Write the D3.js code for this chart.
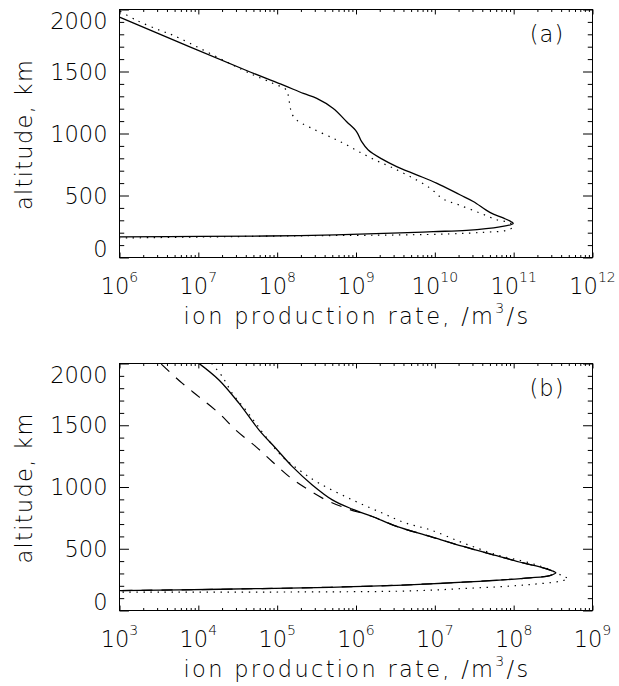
<!DOCTYPE html>
<html>
<head>
<meta charset="utf-8">
<script src="https://cdnjs.cloudflare.com/ajax/libs/d3/7.8.5/d3.min.js"></script>
<style>
  body { margin: 0; background: #fff; }
  svg { display: block; }
  text { font-family: "DejaVu Sans", sans-serif; font-weight: 200; fill: #000; }
</style>
</head>
<body>
<div id="chart"></div>
<script>
// ion production rate (/m^3/s) vs altitude (km)

// panel (a)
const aSolidRate = [1.0e6, 4.54e7, 1.20e8, 2.15e8, 3.18e8, 5.15e8, 7.62e8, 1.02e9, 1.18e9, 1.43e9, 2.12e9, 3.28e9, 5.87e9, 1.05e10, 2.08e10, 3.07e10, 4.99e10, 7.36e10, 9.40e10, 9.86e10, 6.68e10, 2.53e10, 9.55e9, 3.61e9, 1.95e8, 1.05e7, 1.0e6];
const aSolidAlt  = [1938, 1496, 1390, 1323, 1283, 1202, 1095, 1014, 934, 867, 795, 733, 667, 600, 506, 452, 364, 319, 287, 273, 247, 219, 209, 198, 177, 170, 166];
const aDotRate = [1.02e6, 1.66e6, 3.28e6, 4.83e6, 4.54e7, 8.95e7, 1.32e8, 1.39e8, 1.46e8, 1.53e8, 1.77e8, 2.75e8, 5.15e8, 7.62e8, 1.12e9, 1.74e9, 2.70e9, 4.84e9, 8.67e9, 1.28e10, 1.98e10, 3.73e10, 6.07e10, 8.95e10, 9.86e10, 8.13e10, 4.10e10, 1.55e10, 3.61e9, 1.95e8, 1.05e7, 1.0e6];
const aDotAlt  = [1986, 1912, 1831, 1791, 1484, 1403, 1349, 1296, 1215, 1162, 1108, 1042, 961, 908, 849, 787, 733, 653, 560, 471, 426, 359, 305, 279, 247, 219, 203, 190, 182, 175, 165, 157];

// panel (b)
const bSolidRate = [1.0e4, 1.84e4, 3.29e4, 5.90e4, 9.59e4, 1.56e5, 2.79e5, 5.01e5, 8.97e5, 1.61e6, 3.28e6, 8.67e6, 2.29e7, 6.07e7, 1.32e8, 2.37e8, 3.17e8, 3.43e8, 2.88e8, 1.60e8, 6.07e7, 2.29e7, 8.67e6, 3.28e6, 1.24e6, 4.68e5, 1.89e4, 1.0e3];
const bSolidAlt  = [2005, 1865, 1677, 1461, 1314, 1165, 1017, 896, 821, 761, 681, 600, 519, 444, 385, 345, 318, 305, 283, 264, 245, 229, 216, 204, 196, 188, 172, 161];
const bDotRate = [1.48e4, 2.02e4, 2.70e4, 4.00e4, 5.36e4, 7.18e4, 1.16e5, 1.90e5, 3.40e5, 8.97e5, 2.15e6, 4.27e6, 8.67e6, 2.29e7, 6.07e7, 1.60e8, 2.88e8, 4.24e8, 4.91e8, 3.85e8, 1.60e8, 6.07e7, 2.29e7, 8.67e6, 3.28e6, 4.68e5, 1.0e3];
const bDotAlt  = [2000, 1892, 1758, 1623, 1516, 1407, 1246, 1138, 1031, 896, 789, 708, 654, 547, 452, 385, 331, 277, 258, 237, 210, 191, 178, 164, 156, 151, 148];
const bDashRate = [3.39e3, 6.28e3, 1.02e4, 1.84e4, 2.99e4, 5.36e4, 8.69e4, 1.42e5, 2.30e5, 4.13e5, 7.40e5, 1.61e6, 3.28e6, 8.67e6, 2.29e7, 6.07e7, 1.32e8, 2.37e8, 3.17e8, 3.43e8, 2.88e8, 1.60e8, 6.07e7, 2.29e7, 8.67e6, 3.28e6, 1.24e6, 4.68e5, 1.89e4, 1.0e3];
const bDashAlt  = [1995, 1839, 1730, 1596, 1461, 1327, 1205, 1084, 991, 896, 829, 761, 681, 600, 519, 444, 385, 345, 318, 305, 283, 264, 245, 229, 216, 204, 196, 188, 172, 161];

// axes
const altTicks = [0, 500, 1000, 1500, 2000];
const aDecades = [6, 7, 8, 9, 10, 11, 12];
const bDecades = [3, 4, 5, 6, 7, 8, 9];

const W = 619, H = 686;
const svg = d3.select('#chart').append('svg').attr('width', W).attr('height', H);
svg.append('rect').attr('width', W).attr('height', H).attr('fill', '#fff');

const zip = (r, a) => r.map((v, i) => ({ rate: v, alt: a[i] }));

function panel(cfg) {
    const x = d3.scaleLog().domain([10 ** cfg.decades[0], 10 ** cfg.decades[cfg.decades.length - 1]]).range([119.5, 592.5]);
    const y = d3.scaleLinear().domain([0, 2000]).range([cfg.bottom, cfg.top]);
    const g = svg.append('g');
    const plotW = x.range()[1] - x.range()[0];
    const plotH = cfg.bottom - cfg.top;

    // IDL style ticks: inward, length 2% of the plot
    const majX = cfg.decades.map(d => 10 ** d);
    const minX = [];
    cfg.decades.slice(0, -1).forEach(d => { for (let k = 2; k <= 9; k++) minX.push(k * 10 ** d); });
    const minY = d3.range(0, 2001, 100).filter(v => v % 500 != 0);
    const xl = 0.02 * plotH, yl = 0.02 * plotW;

    const axes = [
        [d3.axisBottom(x).tickValues(majX).tickSize(-xl), `translate(0,${cfg.bottom})`],
        [d3.axisBottom(x).tickValues(minX).tickSize(-xl / 2), `translate(0,${cfg.bottom})`],
        [d3.axisTop(x).tickValues(majX).tickSize(-xl), `translate(0,${cfg.top})`],
        [d3.axisTop(x).tickValues(minX).tickSize(-xl / 2), `translate(0,${cfg.top})`],
        [d3.axisLeft(y).tickValues(altTicks).tickSize(-yl), `translate(${x.range()[0]},0)`],
        [d3.axisLeft(y).tickValues(minY).tickSize(-yl / 2), `translate(${x.range()[0]},0)`],
        [d3.axisRight(y).tickValues(altTicks).tickSize(-yl), `translate(${x.range()[1]},0)`],
        [d3.axisRight(y).tickValues(minY).tickSize(-yl / 2), `translate(${x.range()[1]},0)`]
    ];
    axes.forEach(([ax, tr]) => {
        const a = g.append('g').attr('transform', tr).call(ax.tickFormat('').tickSizeOuter(0));
        a.select('.domain').remove();
        a.selectAll('line').attr('stroke', '#000').attr('stroke-width', 1);
    });
    g.append('rect').attr('x', x.range()[0]).attr('y', cfg.top).attr('width', plotW).attr('height', plotH)
        .attr('fill', 'none').attr('stroke', '#000').attr('stroke-width', 1);

    // curves
    const clipId = 'clip' + cfg.name;
    svg.append('clipPath').attr('id', clipId).append('rect')
        .attr('x', x.range()[0]).attr('y', cfg.top).attr('width', plotW).attr('height', plotH);
    const line = d3.line().x(d => x(d.rate)).y(d => y(d.alt)).curve(d3.curveCatmullRom.alpha(0.5));
    cfg.series.forEach(s => {
        g.append('path').datum(s.data).attr('clip-path', `url(#${clipId})`)
            .attr('d', line).attr('fill', 'none').attr('stroke', '#000')
            .attr('stroke-width', s.dash ? 1.2 : 1.3)
            .attr('stroke-dasharray', s.dash || null)
            .attr('stroke-linecap', 'butt');
    });

    // x tick labels: 10^n
    const fs = 22.5;
    cfg.decades.forEach(d => {
        const t = g.append('text').attr('x', x(10 ** d)).attr('y', cfg.bottom + 36)
            .attr('text-anchor', 'middle').attr('font-size', fs);
        t.append('tspan').text('10');
        t.append('tspan').attr('dy', -12).attr('font-size', 14).text(d);
    });
    // y tick labels, end labels kept inside the box
    altTicks.forEach(v => {
        let cy = y(v);
        if (v == 2000) cy += 11;
        if (v == 0) cy -= 9;
        g.append('text').attr('x', 107.5).attr('y', cy).attr('dy', '0.36em')
            .attr('text-anchor', 'end').attr('font-size', fs).text(v);
    });

    const xt = g.append('text').attr('x', (x.range()[0] + x.range()[1]) / 2 + 1).attr('y', cfg.bottom + 66)
        .attr('text-anchor', 'middle').attr('font-size', fs).attr('letter-spacing', 2.3);
    xt.append('tspan').text('ion production rate, /m');
    xt.append('tspan').attr('dy', -11).attr('font-size', 14).text('3');
    xt.append('tspan').attr('dy', 11).text('/s');

    g.append('text').attr('transform', `translate(31.5,${(cfg.top + cfg.bottom) / 2 + 1}) rotate(-90)`)
        .attr('text-anchor', 'middle').attr('font-size', fs).attr('letter-spacing', 1.3).text('altitude, km');

    g.append('text').attr('x', 547).attr('y', cfg.top + 32).attr('text-anchor', 'middle')
        .attr('font-size', fs).attr('letter-spacing', 1).text(cfg.label);
}

panel({
    name: 'a', label: '(a)', top: 9.5, bottom: 257.5, decades: aDecades,
    series: [
        { data: zip(aSolidRate, aSolidAlt) },
        { data: zip(aDotRate, aDotAlt), dash: '1.4,5.6' }
    ]
});
panel({
    name: 'b', label: '(b)', top: 363.5, bottom: 610.5, decades: bDecades,
    series: [
        { data: zip(bSolidRate, bSolidAlt) },
        { data: zip(bDotRate, bDotAlt), dash: '1.4,5.6' },
        { data: zip(bDashRate, bDashAlt), dash: '11,9' }
    ]
});
</script>
</body>
</html>
